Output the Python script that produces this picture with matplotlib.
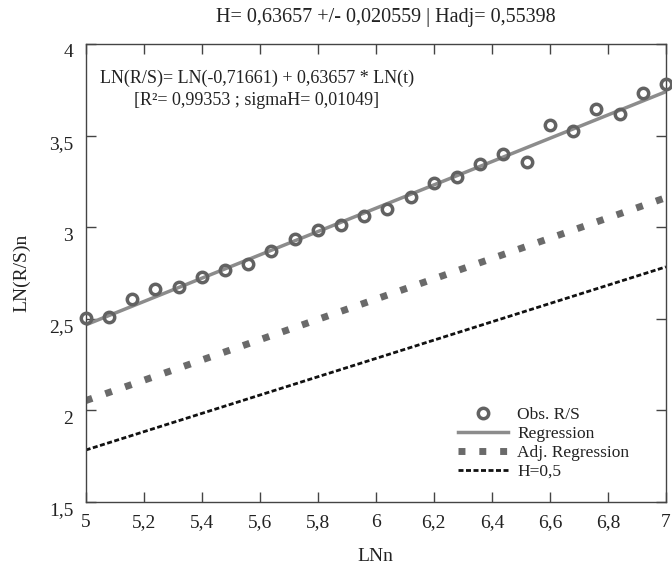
import numpy as np
import matplotlib
matplotlib.use('Agg')
import matplotlib.pyplot as plt
from matplotlib.ticker import FuncFormatter, MultipleLocator
from matplotlib.lines import Line2D
from matplotlib.transforms import ScaledTranslation

plt.rcParams['font.family'] = ['Liberation Serif', 'DejaVu Serif']

ln_n = [5.00, 5.08, 5.16, 5.24, 5.32, 5.40, 5.48, 5.56, 5.64, 5.72, 5.80, 5.88, 5.96,
        6.04, 6.12, 6.20, 6.28, 6.36, 6.44, 6.52, 6.60, 6.68, 6.76, 6.84, 6.92, 7.00]
ln_rs = [2.504, 2.510, 2.608, 2.663, 2.674, 2.728, 2.766, 2.799, 2.870, 2.936, 2.985, 3.012, 3.061,
         3.099, 3.165, 3.241, 3.274, 3.345, 3.400, 3.356, 3.558, 3.525, 3.645, 3.618, 3.733, 3.782]

# straight lines, end values at LNn = 5 and 7
line_x = [5.0, 7.0]
reg_y = [2.4667, 3.7398]
adj_y = [2.0533, 3.1613]
half_y = [1.7834, 2.7834]

title = "H= 0,63657 +/- 0,020559 | Hadj= 0,55398"
eq_text = "LN(R/S)= LN(-0,71661) + 0,63657 * LN(t)\n[R\u00b2= 0,99353 ; sigmaH= 0,01049]"

fig = plt.figure(figsize=(6.72, 5.66), dpi=100)
ax = fig.add_axes([0.1275, 0.1131, 0.8635, 0.8092])

ax.plot(line_x, half_y, color='#111111', lw=2.0, linestyle=(0, (1.8, 0.9)),
        dash_capstyle='butt')
ax.plot(line_x, adj_y, color='#6a6a6a', lw=5.0, linestyle=(0, (1, 2.0)),
        dash_capstyle='butt')
ax.plot(line_x, reg_y, color='#8c8c8c', lw=2.5, solid_capstyle='butt')
ax.plot(ln_n, ln_rs, linestyle='none', marker='o', ms=7.5, mew=2.5,
        mfc='none', mec='#626262', clip_on=False, zorder=5)

ax.set_xlim(5, 7)
ax.set_ylim(1.5, 4)
ax.xaxis.set_major_locator(MultipleLocator(0.2))
ax.yaxis.set_major_locator(MultipleLocator(0.5))
comma = FuncFormatter(lambda v, p: ('%g' % round(v, 2)).replace('.', ','))
ax.xaxis.set_major_formatter(comma)
ax.yaxis.set_major_formatter(comma)
ax.tick_params(direction='in', length=7, width=1, color='#444444',
               top=True, right=True, labelsize=14, colors='#222222')
ax.tick_params(axis='x', pad=8.5)
ax.tick_params(axis='y', pad=9)
for s in ax.spines.values():
    s.set_color('#444444')
    s.set_linewidth(1.0)

ax.set_xlabel("LNn", fontsize=14, color='#222222')
ax.set_ylabel("LN(R/S)n", fontsize=14, color='#222222')
ax.xaxis.set_label_coords(0.5, -0.12)
ax.xaxis.label.set_va('center')
ax.yaxis.set_label_coords(-0.11, 0.5)
ax.yaxis.label.set_va('center')

fig.text(0.5744, 0.961, title, ha='center', va='baseline', fontsize=14.5, color='#222222')
ax.text(0.295, 0.901, eq_text, transform=ax.transAxes, ha='center', va='center',
        multialignment='center', fontsize=13, linespacing=1.35, color='#222222')

handles = [
    Line2D([], [], linestyle='none', marker='o', ms=7.5, mew=2.5, mfc='none', mec='#626262'),
    Line2D([], [], color='#8c8c8c', lw=2.5),
    Line2D([], [], color='#6a6a6a', lw=5.0, linestyle=(0, (1, 2.0)), dash_capstyle='butt'),
    Line2D([], [], color='#111111', lw=2.0, linestyle=(0, (1.8, 0.9)), dash_capstyle='butt'),
]
labels = ["Obs. R/S", "Regression", "Adj. Regression", "H=0,5"]
ax.legend(handles, labels, loc='upper left', bbox_to_anchor=(0.6416, 0.2085),
          frameon=False, fontsize=12.5, handlelength=2.9, handletextpad=0.5,
          labelspacing=0.17, borderpad=0, borderaxespad=0, numpoints=1,
          labelcolor='#222222')

# y tick labels sit a little below their ticks in the original
fig.canvas.draw()
shift = ScaledTranslation(0, -5 / 72, fig.dpi_scale_trans)
for t in ax.yaxis.get_major_ticks():
    t.label1.set_transform(t.label1.get_transform() + shift)

fig.savefig('out.png', dpi=100)
